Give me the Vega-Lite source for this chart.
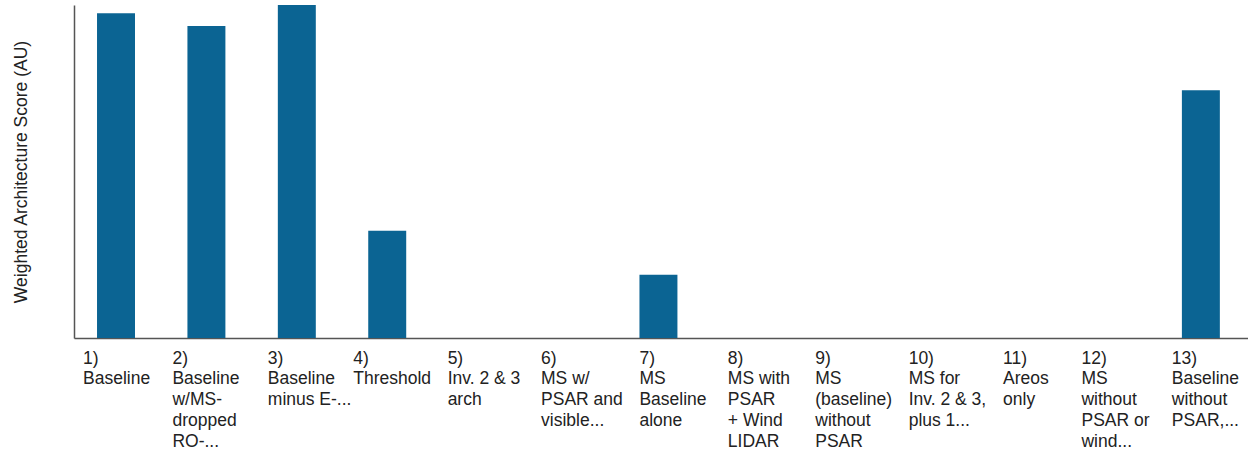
{
  "$schema": "https://vega.github.io/schema/vega-lite/v6.json",
  "width": 1174,
  "height": 333,
  "autosize": {"type": "none"},
  "padding": {"left": 74, "top": 5, "right": 0, "bottom": 116},
  "background": "white",
  "config": {"view": {"stroke": null}, "font": "Liberation Sans"},
  "data": {
    "values": [
      {"label": "1)\nBaseline", "score": 0.975},
      {"label": "2)\nBaseline\nw/MS-\ndropped\nRO-...", "score": 0.937},
      {"label": "3)\nBaseline\nminus E-...", "score": 1.0},
      {"label": "4)\nThreshold", "score": 0.322},
      {"label": "5)\nInv. 2 & 3\narch", "score": 0},
      {"label": "6)\nMS w/\nPSAR and\nvisible...", "score": 0},
      {"label": "7)\nMS\nBaseline\nalone", "score": 0.19},
      {"label": "8)\nMS with\nPSAR\n+ Wind\nLIDAR", "score": 0},
      {"label": "9)\nMS\n(baseline)\nwithout\nPSAR", "score": 0},
      {"label": "10)\nMS for\nInv. 2 & 3,\nplus 1...", "score": 0},
      {"label": "11)\nAreos\nonly", "score": 0},
      {"label": "12)\nMS\nwithout\nPSAR or\nwind...", "score": 0},
      {"label": "13)\nBaseline\nwithout\nPSAR,...", "score": 0.744}
    ]
  },
  "mark": {"type": "bar", "color": "#0b6493"},
  "encoding": {
    "x": {
      "field": "label",
      "type": "nominal",
      "sort": null,
      "scale": {"paddingInner": 0.58, "paddingOuter": 0.283, "align": 0.45},
      "axis": {
        "title": null,
        "labelAngle": 0,
        "labelAlign": "left",
        "labelBaseline": "top",
        "labelPadding": 11,
        "labelFont": "Liberation Sans",
        "labelFontSize": 17.5,
        "labelLineHeight": 20.8,
        "labelColor": "#222222",
        "labelLimit": 200,
        "labelExpr": "split(datum.value, '\\n')",
        "labelOffset": {
          "condition": [
            {"test": "indexof(datum.value, '1)') == 0", "value": -33},
            {"test": "indexof(datum.value, '2)') == 0", "value": -34},
            {"test": "indexof(datum.value, '3)') == 0", "value": -29},
            {"test": "indexof(datum.value, '4)') == 0", "value": -34},
            {"test": "indexof(datum.value, '5)') == 0", "value": -30},
            {"test": "indexof(datum.value, '6)') == 0", "value": -27},
            {"test": "indexof(datum.value, '7)') == 0", "value": -19},
            {"test": "indexof(datum.value, '8)') == 0", "value": -21},
            {"test": "indexof(datum.value, '9)') == 0", "value": -24},
            {"test": "indexof(datum.value, '10)') == 0", "value": -21},
            {"test": "indexof(datum.value, '11)') == 0", "value": -17},
            {"test": "indexof(datum.value, '12)') == 0", "value": -29},
            {"test": "indexof(datum.value, '13)') == 0", "value": -29}
          ],
          "value": -25
        },
        "ticks": false,
        "domainColor": "#555555",
        "domainWidth": 1.5
      }
    },
    "y": {
      "field": "score",
      "type": "quantitative",
      "scale": {"domain": [0, 1], "nice": false},
      "axis": {
        "title": "Weighted Architecture Score (AU)",
        "titleFont": "Liberation Sans",
        "titleFontSize": 17.5,
        "titleFontWeight": "normal",
        "titleColor": "#222222",
        "titlePadding": 44,
        "labels": false,
        "ticks": false,
        "grid": false,
        "domainColor": "#555555",
        "domainWidth": 1.5
      }
    }
  }
}
